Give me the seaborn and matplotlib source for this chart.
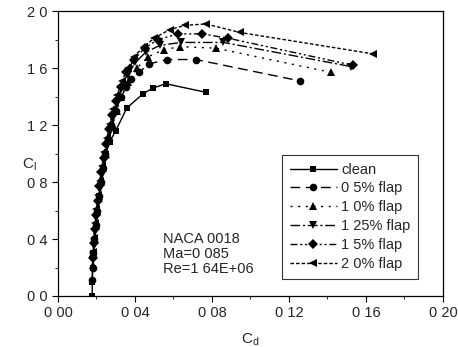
import numpy as np
import pandas as pd
import matplotlib
matplotlib.use('Agg')
import matplotlib.pyplot as plt
import seaborn as sns
from matplotlib.ticker import MultipleLocator, FuncFormatter

# dati (Cd, Cl)
cases = ['clean', '0 5% flap', '1 0% flap', '1 25% flap', '1 5% flap', '2 0% flap']

cd_clean = [0.0178, 0.0178, 0.0180, 0.0184, 0.0190, 0.0197, 0.0205, 0.0213, 0.0222, 0.0233,
            0.0248, 0.0268, 0.0300, 0.0358, 0.0442, 0.0494, 0.0560, 0.0769]
cl_clean = [0.00, 0.10, 0.20, 0.30, 0.40, 0.50, 0.60, 0.70, 0.80, 0.90,
            1.00, 1.08, 1.16, 1.32, 1.42, 1.46, 1.49, 1.43]

cd_f05 = [0.0178, 0.0180, 0.0184, 0.0189, 0.0196, 0.0204, 0.0212, 0.0221, 0.0232, 0.0245,
          0.0260, 0.0278, 0.0300, 0.0330, 0.0355, 0.0380, 0.0420, 0.0475, 0.0567, 0.0717, 0.1257]
cl_f05 = [0.11, 0.20, 0.30, 0.40, 0.50, 0.60, 0.70, 0.80, 0.90, 1.00,
          1.10, 1.20, 1.30, 1.40, 1.47, 1.52, 1.57, 1.63, 1.66, 1.66, 1.51]

cd_f10 = [0.0180, 0.0184, 0.0190, 0.0197, 0.0205, 0.0214, 0.0224, 0.0236, 0.0250,
          0.0266, 0.0284, 0.0305, 0.0328, 0.0365, 0.0410, 0.0470, 0.0550, 0.0634, 0.0820, 0.1418]
cl_f10 = [0.22, 0.30, 0.40, 0.50, 0.60, 0.70, 0.80, 0.90, 1.00,
          1.10, 1.20, 1.30, 1.40, 1.50, 1.60, 1.68, 1.73, 1.75, 1.74, 1.57]

cd_f125 = [0.0180, 0.0186, 0.0192, 0.0199, 0.0207, 0.0216, 0.0227, 0.0239, 0.0253,
           0.0268, 0.0286, 0.0305, 0.0330, 0.0362, 0.0402, 0.0455, 0.0530, 0.0640, 0.0860, 0.1525]
cl_f125 = [0.25, 0.35, 0.45, 0.55, 0.65, 0.75, 0.85, 0.95, 1.05,
           1.15, 1.25, 1.35, 1.45, 1.55, 1.64, 1.71, 1.76, 1.78, 1.78, 1.61]

cd_f15 = [0.0181, 0.0185, 0.0191, 0.0198, 0.0206, 0.0215, 0.0225, 0.0237, 0.0250,
          0.0265, 0.0282, 0.0302, 0.0325, 0.0355, 0.0395, 0.0450, 0.0520, 0.0623, 0.0748, 0.0883, 0.1532]
cl_f15 = [0.27, 0.37, 0.47, 0.57, 0.67, 0.77, 0.87, 0.97, 1.07,
          1.17, 1.27, 1.37, 1.47, 1.57, 1.66, 1.74, 1.80, 1.84, 1.84, 1.81, 1.62]

cd_f20 = [0.0182, 0.0187, 0.0193, 0.0200, 0.0208, 0.0217, 0.0228, 0.0240, 0.0254,
          0.0270, 0.0288, 0.0308, 0.0333, 0.0362, 0.0395, 0.0445, 0.0500, 0.0580, 0.0660, 0.0769, 0.0945, 0.1636]
cl_f20 = [0.31, 0.41, 0.51, 0.61, 0.71, 0.81, 0.91, 1.01, 1.11,
          1.21, 1.31, 1.41, 1.51, 1.60, 1.68, 1.75, 1.81, 1.87, 1.90, 1.91, 1.85, 1.70]

cd_all = [cd_clean, cd_f05, cd_f10, cd_f125, cd_f15, cd_f20]
cl_all = [cl_clean, cl_f05, cl_f10, cl_f125, cl_f15, cl_f20]

markers = ['s', 'o', '^', 'v', 'D', '<']
msizes = [4.5, 5.5, 5.5, 5.5, 5, 5.5]
styles = ['-', (0, (7, 4)), (0, (1.5, 4)), (0, (7, 2, 1.5, 2)), (0, (5, 2, 1.5, 2, 1.5, 2)), (0, (2.5, 1.5))]

sns.set_style('ticks')
plt.rcParams['font.family'] = ['Liberation Sans', 'DejaVu Sans']

fig = plt.figure(figsize=(4.58, 3.47), dpi=100)
ax = fig.add_axes([0.1266, 0.147, 0.8404, 0.821])

for i, name in enumerate(cases):
    df = pd.DataFrame({'Cd': cd_all[i], 'Cl': cl_all[i]})
    sns.lineplot(data=df, x='Cd', y='Cl', ax=ax, sort=False, estimator=None,
                 color='black', linestyle=styles[i], linewidth=1.0,
                 marker=markers[i], markersize=msizes[i], markeredgewidth=0,
                 label=name)

ax.set_xlim(0, 0.20)
ax.set_ylim(0, 2.0)
ax.xaxis.set_major_locator(MultipleLocator(0.04))
ax.xaxis.set_minor_locator(MultipleLocator(0.02))
ax.yaxis.set_major_locator(MultipleLocator(0.4))
ax.yaxis.set_minor_locator(MultipleLocator(0.2))
ax.xaxis.set_major_formatter(FuncFormatter(lambda v, p: f'{v:.2f}'.replace('.', ' ')))
ax.yaxis.set_major_formatter(FuncFormatter(lambda v, p: f'{v:.1f}'.replace('.', ' ')))
ax.tick_params(which='both', direction='out', labelsize=10.5, color='black')
ax.tick_params(which='major', length=4)
ax.tick_params(which='minor', length=2)
for s in ax.spines.values():
    s.set_color('black')
    s.set_linewidth(0.9)

ax.set_xlabel('C$_\\mathregular{d}$', fontsize=11, labelpad=8)
ax.set_ylabel('C$_\\mathregular{l}$', fontsize=11, rotation=0, labelpad=8)
ax.yaxis.set_label_coords(-0.075, 0.43)

ax.text(0.0545, 0.45, 'NACA 0018\nMa=0 085\nRe=1 64E+06', fontsize=10.5,
        va='top', ha='left', linespacing=1.1)

leg = ax.legend(loc='lower right', bbox_to_anchor=(0.955, 0.035), fontsize=10.5,
                frameon=True, fancybox=False, edgecolor='black', handlelength=3.2,
                handletextpad=0.3, labelspacing=0.33, borderpad=0.55)
leg.get_frame().set_linewidth(0.8)

fig.savefig('out.png', dpi=100)
